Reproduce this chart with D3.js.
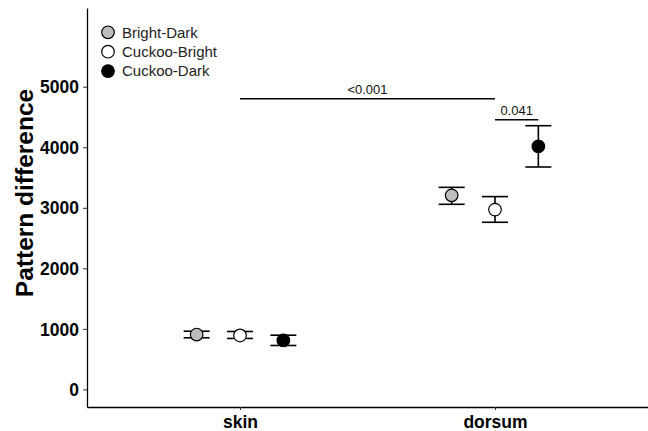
<!DOCTYPE html>
<html>
<head>
<meta charset="utf-8">
<script src="https://cdn.jsdelivr.net/npm/d3@7"></script>
<style>
  body { margin: 0; background: #fff; }
  text { font-family: "Liberation Sans", Arial, sans-serif; }
</style>
</head>
<body>
<div id="chart"></div>
<script>
var regions = ["skin", "dorsum"];
var groups = ["Bright-Dark", "Cuckoo-Bright", "Cuckoo-Dark"];
var groupFills = ["#bdbdbd", "#ffffff", "#000000"];

// mean, lower and upper ends of the error bars, per region, in group order
var skinMean = [907, 891, 809];
var skinLow = [853, 842, 726];
var skinHigh = [962, 957, 896];
var dorsumMean = [3206, 2970, 4015];
var dorsumLow = [3058, 2761, 3674];
var dorsumHigh = [3338, 3185, 4356];

var yTicks = [0, 1000, 2000, 3000, 4000, 5000];

// significance brackets: [region, group] to [region, group]
var sigBars = [
  { from: ["skin", "Cuckoo-Bright"], to: ["dorsum", "Cuckoo-Bright"], y: 4800, label: "<0.001" },
  { from: ["dorsum", "Cuckoo-Bright"], to: ["dorsum", "Cuckoo-Dark"], y: 4455, label: "0.041" }
];

var svgWidth = 648;
var svgHeight = 431;
var margin = { top: 8, right: 0, bottom: 24, left: 87 };
var width = svgWidth - margin.left - margin.right;
var height = svgHeight - margin.top - margin.bottom;

var svg = d3.select("#chart")
  .append("svg")
  .attr("width", svgWidth)
  .attr("height", svgHeight);

var chartGroup = svg.append("g")
  .attr("transform", `translate(${margin.left}, ${margin.top})`);

var data = [];
groups.forEach(function(g, i) {
  data.push({ region: "skin", group: g, mean: skinMean[i], low: skinLow[i], high: skinHigh[i], fill: groupFills[i] });
  data.push({ region: "dorsum", group: g, mean: dorsumMean[i], low: dorsumLow[i], high: dorsumHigh[i], fill: groupFills[i] });
});

var xScale = d3.scalePoint()
  .domain(regions)
  .range([0, width])
  .padding(0.6);

var dodge = d3.scalePoint()
  .domain(groups)
  .range([-0.17 * xScale.step(), 0.17 * xScale.step()]);

var yScale = d3.scaleLinear()
  .domain([-290, 6300])
  .range([height, 0]);

var xPos = function(region, group) { return xScale(region) + dodge(group); };

// axes
var bottomAxis = d3.axisBottom(xScale).tickSize(3).tickSizeOuter(0);
var leftAxis = d3.axisLeft(yScale)
  .tickValues(yTicks)
  .tickFormat(d3.format("d"))
  .tickSize(4)
  .tickSizeOuter(0);

var xAxisG = chartGroup.append("g")
  .attr("transform", `translate(0, ${height})`)
  .call(bottomAxis);
xAxisG.select(".domain").attr("stroke", "#000").attr("stroke-width", 1.3);
xAxisG.selectAll(".tick line").attr("stroke", "#333");
xAxisG.selectAll(".tick text")
  .attr("dy", "0")
  .attr("y", 21)
  .style("font-size", "17.5px")
  .style("font-weight", "bold")
  .attr("fill", "#000");

var yAxisG = chartGroup.append("g").call(leftAxis);
yAxisG.select(".domain").attr("stroke", "#000").attr("stroke-width", 1.3);
yAxisG.selectAll(".tick line").attr("stroke", "#333");
yAxisG.selectAll(".tick text")
  .attr("x", -8)
  .attr("dy", "0.35em")
  .style("font-size", "17.5px")
  .style("font-weight", "bold")
  .attr("fill", "#000");

chartGroup.append("text")
  .attr("transform", "rotate(-90)")
  .attr("x", -185)
  .attr("y", -54)
  .style("text-anchor", "middle")
  .style("font-size", "24.5px")
  .style("font-weight", "bold")
  .text("Pattern difference");

// error bars
var capHalf = 13;
var bars = chartGroup.selectAll(".errbar")
  .data(data)
  .enter()
  .append("g")
  .attr("class", "errbar")
  .attr("stroke", "#000")
  .attr("stroke-width", 1.6);

bars.append("line")
  .attr("x1", d => xPos(d.region, d.group))
  .attr("x2", d => xPos(d.region, d.group))
  .attr("y1", d => yScale(d.low))
  .attr("y2", d => yScale(d.high));

bars.append("line")
  .attr("x1", d => xPos(d.region, d.group) - capHalf)
  .attr("x2", d => xPos(d.region, d.group) + capHalf)
  .attr("y1", d => yScale(d.low))
  .attr("y2", d => yScale(d.low));

bars.append("line")
  .attr("x1", d => xPos(d.region, d.group) - capHalf)
  .attr("x2", d => xPos(d.region, d.group) + capHalf)
  .attr("y1", d => yScale(d.high))
  .attr("y2", d => yScale(d.high));

chartGroup.selectAll(".pt")
  .data(data)
  .enter()
  .append("circle")
  .attr("class", "pt")
  .attr("cx", d => xPos(d.region, d.group))
  .attr("cy", d => yScale(d.mean))
  .attr("r", 6.3)
  .attr("fill", d => d.fill)
  .attr("stroke", "#000")
  .attr("stroke-width", 1.2);

// significance
sigBars.forEach(function(s) {
  var x1 = xPos(s.from[0], s.from[1]);
  var x2 = xPos(s.to[0], s.to[1]);
  chartGroup.append("line")
    .attr("x1", x1).attr("x2", x2)
    .attr("y1", yScale(s.y)).attr("y2", yScale(s.y))
    .attr("stroke", "#000")
    .attr("stroke-width", 1.6);
  chartGroup.append("text")
    .attr("x", (x1 + x2) / 2)
    .attr("y", yScale(s.y) - 5)
    .style("text-anchor", "middle")
    .style("font-size", "13px")
    .attr("fill", "#111")
    .text(s.label);
});

// legend
var legend = chartGroup.selectAll(".legend")
  .data(groups)
  .enter()
  .append("g")
  .attr("class", "legend")
  .attr("transform", (d, i) => `translate(21, ${24.3 + i * 19.4})`);

legend.append("circle")
  .attr("r", 6.3)
  .attr("fill", (d, i) => groupFills[i])
  .attr("stroke", "#000")
  .attr("stroke-width", 1.2);

legend.append("text")
  .attr("x", 14)
  .attr("y", 5.3)
  .style("font-size", "15px")
  .attr("fill", "#222")
  .text(d => d);
</script>
</body>
</html>
